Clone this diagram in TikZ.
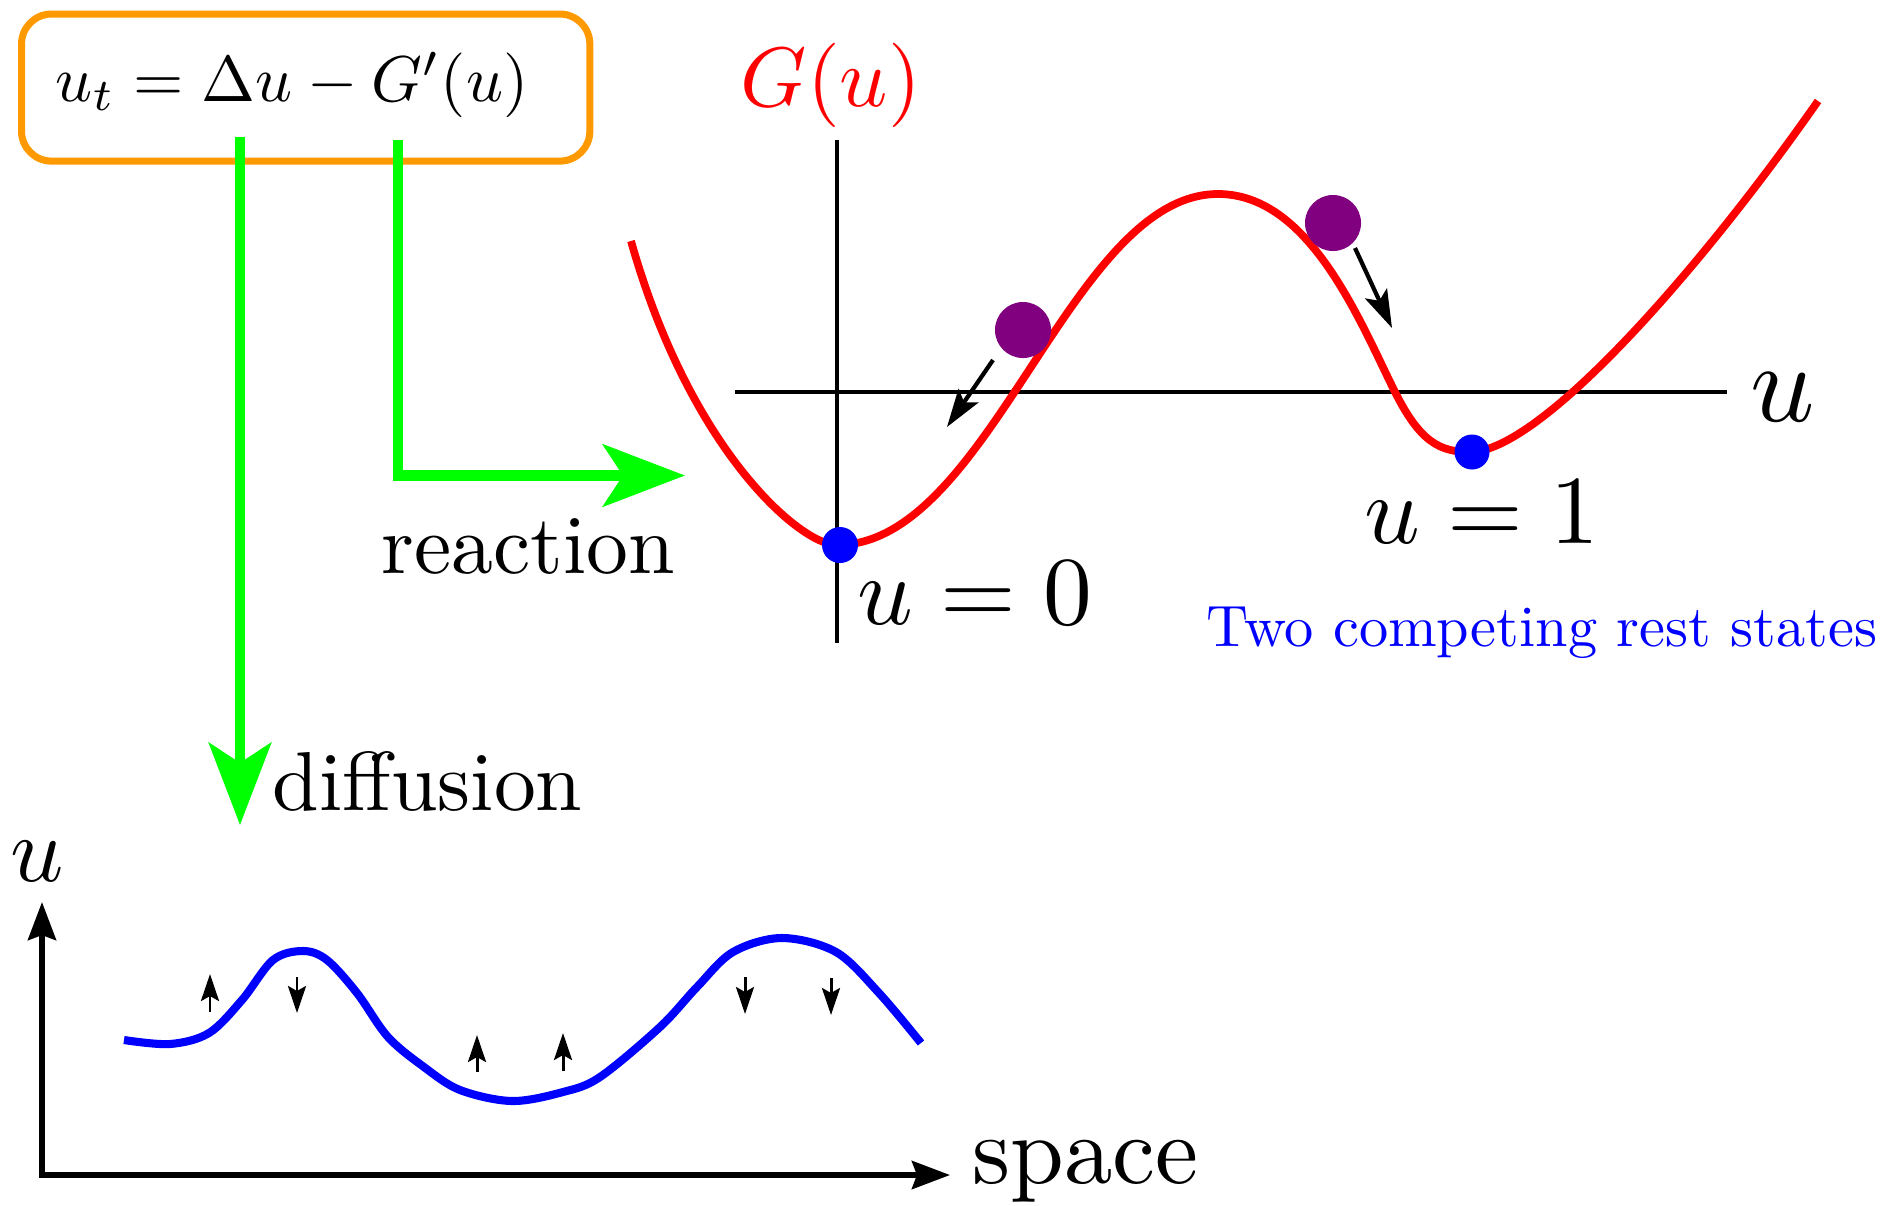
\documentclass[tikz,border=0pt]{standalone}
\usepackage{graphicx}
\usetikzlibrary{arrows.meta}
\definecolor{eqorange}{RGB}{255,153,0}
\definecolor{gpurple}{RGB}{128,0,128}
\definecolor{pgreen}{RGB}{0,255,0}
\definecolor{pblue}{RGB}{0,0,255}
\definecolor{pred}{RGB}{255,0,0}
\newcommand{\bigtxt}[2]{\scalebox{#1}{#2}}
\tikzset{
  lbl/.style={inner sep=0pt, anchor=base west, font=\fontsize{10}{12}\selectfont},
  greenarrow/.style={draw=pgreen, line width=3.1pt, -{Stealth[length=0.82cm,width=0.62cm,inset=0.2cm]}},
  thinaxis/.style={draw=black, line width=1pt},
  redcurve/.style={draw=pred, line width=2.2pt},
  bluecurve/.style={draw=pblue, line width=2.3pt},
  restdot/.style={circle, fill=pblue, inner sep=0pt, minimum size=0.36cm},
  balldot/.style={circle, fill=gpurple, inner sep=0pt, minimum size=0.56cm},
  rollarrow/.style={draw=black, line width=1.2pt, -{Stealth[length=0.38cm,width=0.24cm,inset=0.08cm]}},
  botaxis/.style={draw=black, line width=1.6pt, {Stealth[length=0.38cm,width=0.28cm,inset=0.05cm]}-{Stealth[length=0.38cm,width=0.28cm,inset=0.05cm]}},
  smallarrow/.style={draw=black, line width=0.85pt, -{Stealth[length=0.27cm,width=0.18cm,inset=0.05cm]}}
}
\begin{document}
\begin{tikzpicture}[x=0.01cm,y=-0.01cm]
\path[fill=white] (0,0) rectangle (1900,1205);

% equation box
\node[draw=eqorange, line width=2pt, rounded corners=0.3cm, minimum width=5.68cm, minimum height=1.47cm, inner sep=0pt, anchor=north west] (eq) at (18,10.5) {};
\node[lbl] (eqtext) at (55,101) {\bigtxt{1.84}{$u_t = \Delta u - G'(u)$}};

% green arrows
\coordinate (dtop) at (240,137);
\coordinate (dtip) at (240,825);
\coordinate (rtop) at (398,140);
\coordinate (rtip) at (685,475.5);
\draw[greenarrow] (dtop) -- (dtip);
\draw[greenarrow] (rtop) |- (rtip);
\node[lbl] (reaction) at (381,573) {\bigtxt{2.38}{reaction}};
\node[lbl] (diffusion) at (272,810) {\bigtxt{2.38}{diffusion}};

% G plot axes
\coordinate (vtop) at (837,140);
\coordinate (vbot) at (837,643);
\coordinate (hl) at (735,392);
\coordinate (hr) at (1727,392);
\draw[thinaxis] (vtop) -- (vbot);
\draw[thinaxis] (hl) -- (hr);
\node[lbl, text=pred] (Glabel) at (740,106) {\bigtxt{2.4}{$G(u)$}};
\node[lbl] (uaxis) at (1750,421) {\bigtxt{3.2}{$u$}};

% red potential
\draw[redcurve] (631,241) .. controls (690,450) and (800,545) .. (837,545)
  .. controls (990,545) and (1070,194) .. (1218,194)
  .. controls (1310,194) and (1360,322) .. (1395,392)
  .. controls (1420,442) and (1440,452) .. (1470,452)
  .. controls (1540,452) and (1700,270) .. (1818,101);

% rest states
\node[restdot] (z0) at (840,545) {};
\node[restdot, minimum size=0.35cm] (z1) at (1472,452) {};
\node[lbl] (u0) at (857,624) {\bigtxt{2.77}{$u=0$}};
\node[lbl] (u1) at (1364,543) {\bigtxt{2.77}{$u=1$}};
\node[lbl, text=pblue] (rest) at (1206,646) {\bigtxt{1.66}{Two competing rest states}};

% balls
\node[balldot] (b1) at (1023,330) {};
\node[balldot] (b2) at (1333,223) {};
\coordinate (r1s) at (993,360);
\coordinate (r1e) at (947,427);
\coordinate (r2s) at (1355,248);
\coordinate (r2e) at (1392,328);
\draw[rollarrow] (r1s) -- (r1e);
\draw[rollarrow] (r2s) -- (r2e);

% bottom plot
\coordinate (btop) at (42,902);
\coordinate (bright) at (950,1175);
\draw[botaxis] (btop) |- (bright);
\node[lbl] (ulab) at (10,881) {\bigtxt{2.65}{$u$}};
\node[lbl] (space) at (972,1183) {\bigtxt{2.75}{space}};

\draw[bluecurve] plot[smooth, tension=0.55] coordinates {
  (124,1040) (170,1044) (209,1033) (242,1000) (273,960) (303,951) (327,960)
  (357,993) (388,1037) (424,1067) (460,1090) (512,1101) (563,1092) (600,1077)
  (660,1027) (697,987) (733,952) (782,938) (836,952) (879,993) (921,1043)};

\coordinate (s1a) at (210,1012); \coordinate (s1b) at (210,974);
\coordinate (s2a) at (297,977);  \coordinate (s2b) at (297,1013);
\coordinate (s3a) at (477,1072); \coordinate (s3b) at (477,1035);
\coordinate (s4a) at (563,1071); \coordinate (s4b) at (563,1033);
\coordinate (s5a) at (745,977);  \coordinate (s5b) at (745,1014);
\coordinate (s6a) at (831,978);  \coordinate (s6b) at (831,1015);
\draw[smallarrow] (s1a) -- (s1b);
\draw[smallarrow] (s2a) -- (s2b);
\draw[smallarrow] (s3a) -- (s3b);
\draw[smallarrow] (s4a) -- (s4b);
\draw[smallarrow] (s5a) -- (s5b);
\draw[smallarrow] (s6a) -- (s6b);
\end{tikzpicture}
\end{document}
